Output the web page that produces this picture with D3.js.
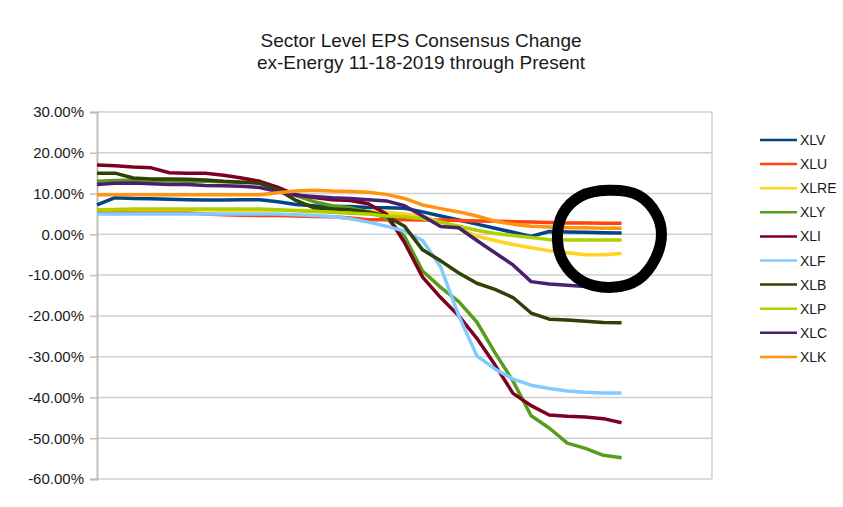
<!DOCTYPE html>
<html>
<head>
<meta charset="utf-8">
<script src="https://cdn.jsdelivr.net/npm/d3@7"></script>
<style>
  body { margin: 0; background: #fff; }
  svg { display: block; font-family: "Liberation Sans", Arial, sans-serif; }
</style>
</head>
<body>
<svg id="canvas" width="843" height="507"></svg>
<script>

// 35 slots on the category axis, only the first 30 have values
const categories = d3.range(35);

const yTicks = [0.3, 0.2, 0.1, 0, -0.1, -0.2, -0.3, -0.4, -0.5, -0.6];

const seriesNames = ["XLV", "XLU", "XLRE", "XLY", "XLI", "XLF", "XLB", "XLP", "XLC", "XLK"];
const seriesColors = ["#004586", "#ff420e", "#ffd320", "#579d1c", "#7e0021",
                      "#83caff", "#314004", "#aecf00", "#4b1f6f", "#ff950e"];

// values in percent
const xlv  = [7.2, 9.0, 8.8, 8.7, 8.6, 8.5, 8.4, 8.4, 8.5, 8.5, 8.0, 7.3, 7.0, 6.8, 6.8,
              6.6, 6.5, 6.4, 5.5, 4.5, 3.5, 2.5, 1.5, 0.5, -0.5, 0.7, 0.6, 0.5, 0.4, 0.3];
const xlu  = [5.5, 5.5, 5.4, 5.4, 5.3, 5.3, 5.0, 4.8, 4.7, 4.6, 4.6, 4.5, 4.4, 4.3, 4.0,
              3.6, 3.6, 3.6, 3.5, 3.5, 3.4, 3.3, 3.2, 3.1, 3.0, 2.9, 2.8, 2.8, 2.7, 2.7];
const xlre = [6.0, 6.0, 6.0, 6.0, 6.0, 6.0, 6.0, 5.9, 5.9, 5.9, 5.9, 5.9, 5.8, 5.8, 5.8,
              5.6, 5.4, 5.0, 4.4, 3.0, 1.5, -0.5, -1.5, -2.5, -3.3, -4.0, -4.5, -5.0, -5.0, -4.7];
const xly  = [13.0, 13.2, 13.3, 13.2, 13.1, 13.0, 13.0, 12.9, 12.8, 12.8, 11.5, 9.5, 8.0, 7.0, 6.5,
              5.5, 4.0, -0.5, -9.0, -13.0, -16.5, -21.5, -29.0, -36.0, -44.5, -47.5, -51.2, -52.5, -54.2, -54.8];
const xli  = [17.0, 16.8, 16.5, 16.3, 15.1, 15.0, 15.0, 14.5, 13.8, 13.0, 11.5, 9.7, 9.0, 8.5, 8.3,
              7.5, 5.0, -2.0, -10.5, -15.5, -20.0, -25.5, -32.0, -39.0, -42.0, -44.3, -44.6, -44.8, -45.2, -46.2];
const xlf  = [5.0, 5.0, 5.0, 5.0, 5.0, 5.0, 5.0, 5.0, 5.0, 5.0, 5.0, 4.8, 4.6, 4.4, 3.8,
              3.0, 2.0, 0.8, -1.5, -8.0, -20.0, -29.8, -33.0, -35.5, -37.0, -37.8, -38.4, -38.7, -38.9, -38.9];
const xlb  = [15.0, 15.0, 13.8, 13.6, 13.6, 13.5, 13.3, 13.0, 12.8, 12.5, 11.0, 8.3, 6.5, 6.2, 6.0,
              5.5, 4.5, 2.0, -3.8, -6.5, -9.5, -12.0, -13.5, -15.5, -19.3, -20.8, -21.0, -21.3, -21.6, -21.7];
const xlp  = [6.0, 6.1, 6.2, 6.2, 6.2, 6.2, 6.2, 6.2, 6.2, 6.2, 6.0, 5.8, 5.6, 5.4, 5.2,
              5.0, 4.5, 4.3, 3.8, 3.0, 2.0, 1.0, 0.2, -0.3, -0.8, -1.3, -1.4, -1.4, -1.4, -1.4];
const xlc  = [12.2, 12.5, 12.6, 12.4, 12.2, 12.2, 12.0, 11.9, 11.8, 11.5, 10.5, 9.6, 9.3, 9.0, 8.8,
              8.5, 8.2, 7.0, 4.5, 1.9, 1.6, -1.5, -4.5, -7.5, -11.6, -12.2, -12.5, -12.8, -13.0, -13.1];
const xlk  = [9.7, 9.7, 9.7, 9.7, 9.7, 9.7, 9.7, 9.7, 9.7, 9.7, 10.2, 10.6, 10.8, 10.6, 10.5,
              10.3, 9.8, 8.8, 7.2, 6.3, 5.5, 4.5, 3.2, 2.5, 2.0, 1.8, 1.6, 1.6, 1.5, 1.5];

const seriesValues = [xlv, xlu, xlre, xly, xli, xlf, xlb, xlp, xlc, xlk];

const series = seriesNames.map((name, i) => ({
    name: name,
    color: seriesColors[i],
    values: seriesValues[i].map((v, j) => ({cat: categories[j], v: v / 100}))
}));

const svg = d3.select('#canvas');

const plot = {left: 97, right: 712, top: 112, bottom: 479};

const x = d3.scalePoint().domain(categories).range([plot.left, plot.right]);
const y = d3.scaleLinear().domain([-0.6, 0.3]).range([plot.bottom, plot.top]);

// title
svg.append('text')
    .attr('x', 421).attr('y', 47)
    .attr('text-anchor', 'middle')
    .attr('font-size', 19).attr('fill', '#1a1a1a')
    .selectAll('tspan')
    .data(["Sector Level EPS Consensus Change", "ex-Energy 11-18-2019 through Present"])
    .join('tspan')
    .attr('x', 421)
    .attr('dy', (d, i) => i ? 22 : 0)
    .text(d => d);

// horizontal grid
svg.append('g')
    .selectAll('line')
    .data(yTicks)
    .join('line')
    .attr('x1', plot.left).attr('x2', plot.right)
    .attr('y1', d => y(d)).attr('y2', d => y(d))
    .attr('stroke', '#cfcfcf').attr('stroke-width', 1.5);

// right border of the wall
svg.append('line')
    .attr('x1', plot.right).attr('x2', plot.right)
    .attr('y1', plot.top).attr('y2', plot.bottom)
    .attr('stroke', '#cfcfcf').attr('stroke-width', 1.5);

// y axis
const yAxis = svg.append('g')
    .attr('transform', `translate(${plot.left},0)`)
    .call(d3.axisLeft(y)
        .tickValues(yTicks)
        .tickSize(7)
        .tickPadding(6)
        .tickFormat(d => (d * 100).toFixed(2) + '%'));
yAxis.select('.domain').attr('stroke', '#bdbdbd').attr('stroke-width', 2);
yAxis.selectAll('.tick line').attr('stroke', '#bdbdbd').attr('stroke-width', 1.5);
yAxis.selectAll('.tick text')
    .attr('font-size', 15)
    .attr('font-family', '"Liberation Sans", Arial, sans-serif')
    .attr('fill', '#1a1a1a');

// lines
const line = d3.line()
    .x(d => x(d.cat))
    .y(d => y(d.v));

svg.append('g')
    .selectAll('path')
    .data(series)
    .join('path')
    .attr('d', d => line(d.values))
    .attr('fill', 'none')
    .attr('stroke', d => d.color)
    .attr('stroke-width', 3.5)
    .attr('stroke-linejoin', 'round');

// legend
const legend = svg.append('g')
    .selectAll('g')
    .data(series)
    .join('g')
    .attr('transform', (d, i) => `translate(760,${140 + i * 24.1})`);

legend.append('line')
    .attr('x1', 0).attr('x2', 37)
    .attr('stroke', d => d.color)
    .attr('stroke-width', 2.5);

legend.append('text')
    .attr('x', 40).attr('dy', '0.36em')
    .attr('font-size', 14).attr('fill', '#1a1a1a')
    .text(d => d.name);

// hand drawn circle around the last values
const cx = x(categories[28]) + 5, cy = y(0) + 4;
const ring = [[0, -48], [30, -43], [48, -24], [53, -4], [47, 20], [30, 41], [4, 49],
              [-26, 43], [-45, 24], [-51, 2], [-46, -24], [-28, -42]];
svg.append('path')
    .attr('d', d3.line().curve(d3.curveCatmullRomClosed)(ring.map(p => [cx + p[0], cy + p[1]])))
    .attr('fill', 'none')
    .attr('stroke', '#000')
    .attr('stroke-width', 11);

</script>
</body>
</html>
